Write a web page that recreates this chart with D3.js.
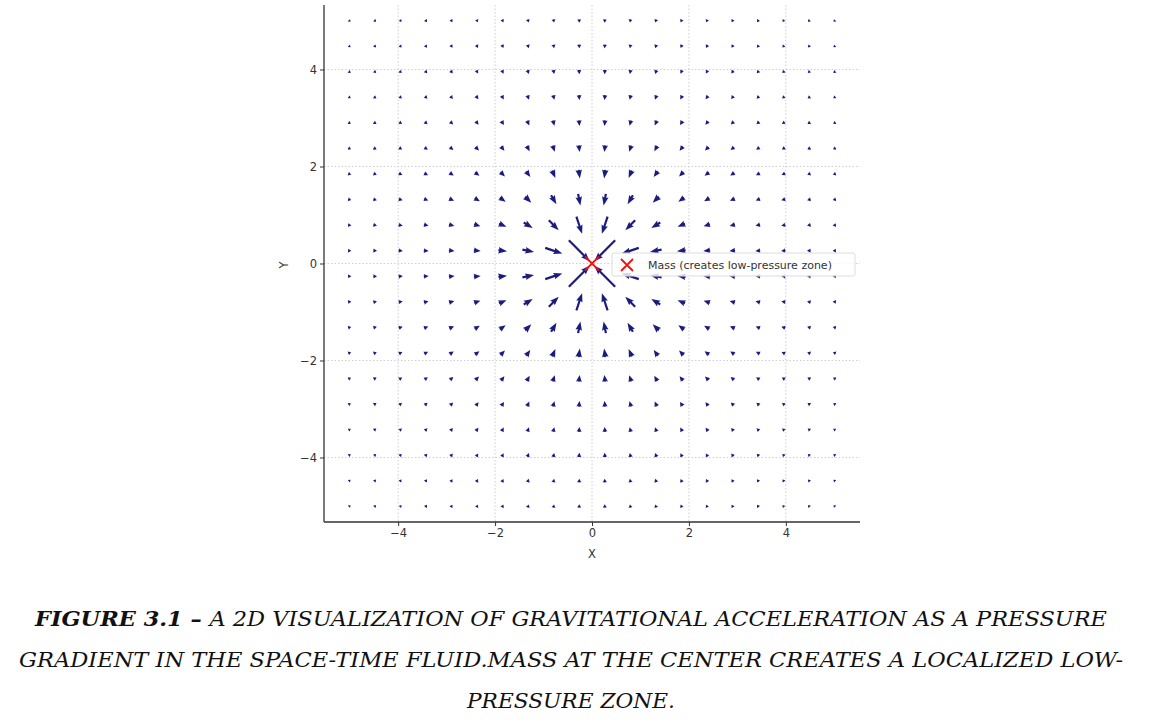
<!DOCTYPE html>
<html><head><meta charset="utf-8">
<script src="https://cdn.jsdelivr.net/npm/d3@7"></script>
<style>body{margin:0;background:#fff}</style>
</head><body>
<svg id="chart" width="1151" height="727"></svg>
<script>
// grid of sample points (numpy linspace(-5, 5, 20))
var gridX = [-5,-4.474,-3.947,-3.421,-2.895,-2.368,-1.842,-1.316,-0.789,-0.263,0.263,0.789,1.316,1.842,2.368,2.895,3.421,3.947,4.474,5];
var gridY = gridX.slice();
var ticks = [-4, -2, 0, 2, 4];
var mass = {x: 0, y: 0, label: "Mass (creates low-pressure zone)"};
var captionLines = [
  [["FIGURE 3.1 – ", true], ["A 2D VISUALIZATION OF GRAVITATIONAL ACCELERATION AS A PRESSURE", false]],
  [["GRADIENT IN THE SPACE-TIME FLUID.MASS AT THE CENTER CREATES A LOCALIZED LOW-", false]],
  [["PRESSURE ZONE.", false]]
];

var svg = d3.select("#chart");
var x = d3.scaleLinear().domain([-5.53, 5.53]).range([324, 860]);
var y = d3.scaleLinear().domain([-5.33, 5.33]).range([522, 5]);

// grid
var g = svg.append("g");
g.selectAll(".gx").data(ticks).enter().append("line")
  .attr("x1", d => x(d)).attr("x2", d => x(d)).attr("y1", 5).attr("y2", 522)
  .attr("stroke", "#c8c8d0").attr("stroke-width", 0.9).attr("stroke-dasharray", "1.5,2");
g.selectAll(".gy").data(ticks).enter().append("line")
  .attr("y1", d => y(d)).attr("y2", d => y(d)).attr("x1", 324).attr("x2", 860)
  .attr("stroke", "#c8c8d0").attr("stroke-width", 0.9).attr("stroke-dasharray", "1.5,2");

// vector field: acceleration toward mass (softened)
var pts = [];
gridX.forEach(function(px){ gridY.forEach(function(py){
  var dx = mass.x - px, dy = mass.y - py, r2 = dx*dx + dy*dy + 0.07;
  pts.push({x: px, y: py, u: dx / r2, v: dy / r2});
}); });
var scale = 16.5; // px per unit of vector
var w = 2.2;
function arrowPath(d){
  var L = Math.sqrt(d.u*d.u + d.v*d.v) * scale;
  var hl = 5*w*0.8, hw = 3*w*0.5, ha = 4.5*w*0.8, sw = w/2;
  var k = 1;
  if (L < hl) { k = L / hl; }
  hl *= k; ha *= k; hw = Math.max(hw*Math.sqrt(k), sw);
  var p = [[-L/2, -sw], [L/2 - ha, -sw], [L/2 - hl, -hw], [L/2, 0], [L/2 - hl, hw], [L/2 - ha, sw], [-L/2, sw]];
  var ang = Math.atan2(-d.v, d.u);
  var c = Math.cos(ang), s = Math.sin(ang), cx = x(d.x), cy = y(d.y);
  return "M" + p.map(q => [cx + q[0]*c - q[1]*s, cy + q[0]*s + q[1]*c].map(n => n.toFixed(2)).join(",")).join("L") + "Z";
}
svg.append("g").selectAll("path").data(pts).enter().append("path")
  .attr("d", arrowPath).attr("fill", "#1c1c80");

// axes
var ax = svg.append("g").attr("transform", "translate(0,522)")
  .call(d3.axisBottom(x).tickValues(ticks).tickSize(4).tickFormat(d => d < 0 ? "−" + Math.abs(d) : d));
var ay = svg.append("g").attr("transform", "translate(324,0)")
  .call(d3.axisLeft(y).tickValues(ticks).tickSize(4).tickFormat(d => d < 0 ? "−" + Math.abs(d) : d));
[ax, ay].forEach(function(a){
  a.select(".domain").attr("stroke", "#333").attr("stroke-width", 1.3);
  a.selectAll(".tick line").attr("stroke", "#333");
  a.selectAll("text").attr("font-family", "DejaVu Sans").attr("font-size", 11.5).attr("fill", "#333");
});
ay.select(".domain").attr("d", "M0,5V522");
ax.select(".domain").attr("d", "M324,0H860");
svg.append("text").attr("x", 592).attr("y", 558).attr("text-anchor", "middle")
  .attr("font-family", "DejaVu Sans").attr("font-size", 11.5).attr("fill", "#333").text("X");
svg.append("text").attr("transform", "translate(288,265) rotate(-90)").attr("text-anchor", "middle")
  .attr("font-family", "DejaVu Sans").attr("font-size", 11.5).attr("fill", "#333").text("Y");

// mass marker
function cross(sel, cx, cy, s){
  sel.append("path").attr("d", `M${cx-s},${cy-s}L${cx+s},${cy+s}M${cx-s},${cy+s}L${cx+s},${cy-s}`)
    .attr("stroke", "#f01010").attr("stroke-width", 1.8).attr("fill", "none");
}
cross(svg, x(mass.x), y(mass.y), 7);

// legend
svg.append("rect").attr("x", 612).attr("y", 253).attr("width", 243).attr("height", 23).attr("rx", 2)
  .attr("fill", "rgba(255,255,255,0.8)").attr("stroke", "#ddd");
cross(svg, 627, 265, 6);
svg.append("text").attr("x", 648).attr("y", 269).attr("font-family", "DejaVu Sans").attr("font-size", 11)
  .attr("fill", "#333").text(mass.label);

// caption
captionLines.forEach(function(line, i){
  var t = svg.append("text").attr("x", 571).attr("y", 626 + i*41).attr("text-anchor", "middle")
    .attr("font-family", "DejaVu Serif").attr("font-style", "italic").attr("font-size", 21).attr("fill", "#111")
    .attr("textLength", [1072, 1104, 208][i]).attr("lengthAdjust", "spacingAndGlyphs");
  line.forEach(function(seg){
    t.append("tspan").attr("font-weight", seg[1] ? "bold" : "normal").text(seg[0]);
  });
});
</script>
</body></html>
